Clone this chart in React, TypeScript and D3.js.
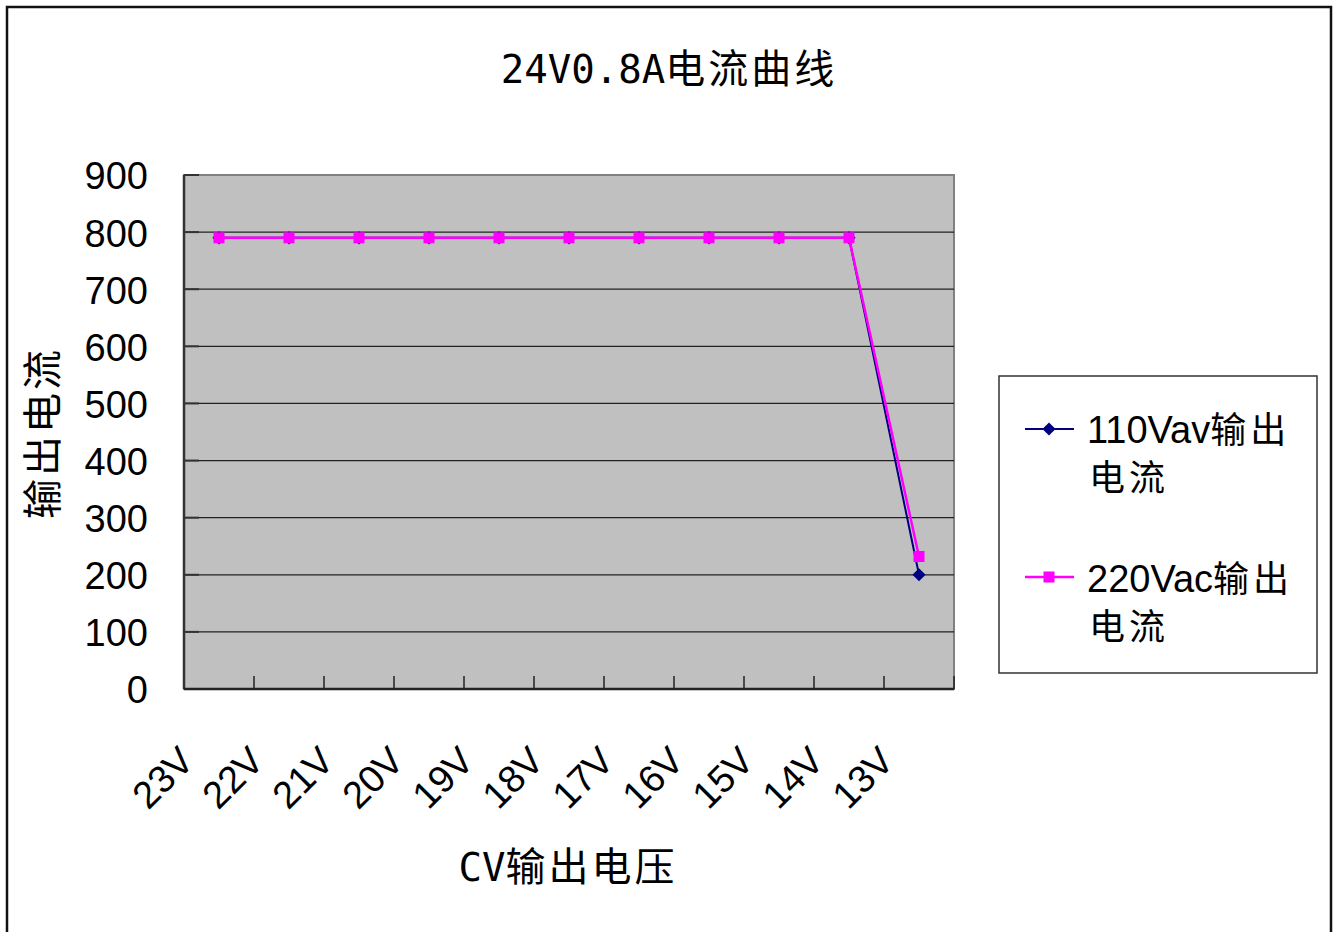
import * as d3 from 'd3';

const categories = ['23V', '22V', '21V', '20V', '19V', '18V', '17V', '16V', '15V', '14V', '13V'];
const current110 = [790, 790, 790, 790, 790, 790, 790, 790, 790, 790, 200];
const current220 = [790, 790, 790, 790, 790, 790, 790, 790, 790, 790, 232];
const yTicks = [0, 100, 200, 300, 400, 500, 600, 700, 800, 900];

const NAVY = '#000080';
const MAGENTA = '#FF00FF';
const LATIN = '"Liberation Sans", Arial, sans-serif';
const MONO = '"DejaVu Sans Mono", monospace';
const CJK = '"Noto Sans CJK SC", sans-serif';

export default function App() {
  const width = 1337;
  const height = 932;
  const plot = { left: 184, top: 175, right: 954, bottom: 689 };

  const x = d3.scaleBand<string>().domain(categories).range([plot.left, plot.right]);
  const y = d3.scaleLinear().domain([0, 900]).range([plot.bottom, plot.top]);
  const cx = (c: string) => (x(c) ?? 0) + x.bandwidth() / 2;

  const line = d3.line<number>()
    .x((_, i) => cx(categories[i]))
    .y((d) => y(d));

  const diamond = d3.symbol().type(d3.symbolDiamond2).size(110)();

  const boundaries = categories.map((c) => x(c) ?? 0).concat([plot.right]);

  return (
    <svg width={width} height={height} style={{ position: 'fixed', left: 0, top: 0, background: '#fff' }}>
      <rect x={7} y={7} width={1324} height={940} fill="#fff" stroke="#111" strokeWidth={2.5} />

      {/* title */}
      <text x={669} y={83} textAnchor="middle" fill="#000">
        <tspan fontFamily={MONO} fontSize={39}>24V0.8A</tspan>
        <tspan fontFamily={CJK} fontSize={40} letterSpacing={3}>电流曲线</tspan>
      </text>

      {/* plot area */}
      <rect x={plot.left} y={plot.top} width={plot.right - plot.left} height={plot.bottom - plot.top}
        fill="#C0C0C0" stroke="#808080" strokeWidth={2} />
      {yTicks.slice(1, -1).map((t) => (
        <line key={t} x1={plot.left} x2={plot.right} y1={y(t)} y2={y(t)} stroke="#222" strokeWidth={1.3} />
      ))}
      {yTicks.map((t) => (
        <line key={'yt' + t} x1={plot.left} x2={plot.left + 15} y1={y(t)} y2={y(t)} stroke="#333" strokeWidth={2} />
      ))}
      {boundaries.map((b, i) => (
        <line key={'xt' + i} x1={b} x2={b} y1={plot.bottom} y2={plot.bottom - 13} stroke="#222" strokeWidth={1.5} />
      ))}
      <line x1={plot.left} x2={plot.left} y1={plot.top} y2={plot.bottom} stroke="#333" strokeWidth={2.5} />
      <line x1={plot.left} x2={plot.right} y1={plot.bottom} y2={plot.bottom} stroke="#222" strokeWidth={2.5} />

      {/* y tick labels */}
      {yTicks.map((t) => (
        <text key={'yl' + t} x={148} y={y(t)} dy="0.38em" textAnchor="end" fontFamily={LATIN} fontSize={38} fill="#000">
          {t}
        </text>
      ))}

      {/* x tick labels */}
      {categories.map((c) => (
        <text key={'xl' + c} transform={`translate(${cx(c) - 23},763) rotate(-45)`} textAnchor="end"
          fontFamily={LATIN} fontSize={38} fill="#000">
          {c}
        </text>
      ))}

      {/* axis titles */}
      <text transform="translate(57,433) rotate(-90)" textAnchor="middle" fontFamily={CJK} fontSize={40}
        letterSpacing={3} fill="#000">
        输出电流
      </text>
      <text x={568} y={881} textAnchor="middle" fill="#000">
        <tspan fontFamily={MONO} fontSize={39}>CV</tspan>
        <tspan fontFamily={CJK} fontSize={40} letterSpacing={3}>输出电压</tspan>
      </text>

      {/* series */}
      <path d={line(current110) ?? ''} fill="none" stroke={NAVY} strokeWidth={2} />
      {current110.map((v, i) => (
        <path key={'d' + i} d={diamond ?? ''} transform={`translate(${cx(categories[i])},${y(v)})`} fill={NAVY} />
      ))}
      <path d={line(current220) ?? ''} fill="none" stroke={MAGENTA} strokeWidth={2.5} />
      {current220.map((v, i) => (
        <rect key={'s' + i} x={cx(categories[i]) - 5.5} y={y(v) - 5.5} width={11} height={11} fill={MAGENTA} />
      ))}

      {/* legend */}
      <rect x={999} y={376} width={318} height={297} fill="#fff" stroke="#333" strokeWidth={1.5} />
      <line x1={1025} x2={1074} y1={429} y2={429} stroke={NAVY} strokeWidth={2} />
      <path d={diamond ?? ''} transform="translate(1049,429)" fill={NAVY} />
      <text x={1087} y={443} fill="#000">
        <tspan fontFamily={LATIN} fontSize={38}>110Vav</tspan>
        <tspan fontFamily={CJK} fontSize={36} letterSpacing={4}>输出</tspan>
      </text>
      <text x={1089} y={491} fontFamily={CJK} fontSize={36} letterSpacing={4} fill="#000">电流</text>

      <line x1={1025} x2={1074} y1={577} y2={577} stroke={MAGENTA} strokeWidth={2.5} />
      <rect x={1043.5} y={571.5} width={11} height={11} fill={MAGENTA} />
      <text x={1087} y={592} fill="#000">
        <tspan fontFamily={LATIN} fontSize={38}>220Vac</tspan>
        <tspan fontFamily={CJK} fontSize={36} letterSpacing={4}>输出</tspan>
      </text>
      <text x={1089} y={640} fontFamily={CJK} fontSize={36} letterSpacing={4} fill="#000">电流</text>
    </svg>
  );
}
